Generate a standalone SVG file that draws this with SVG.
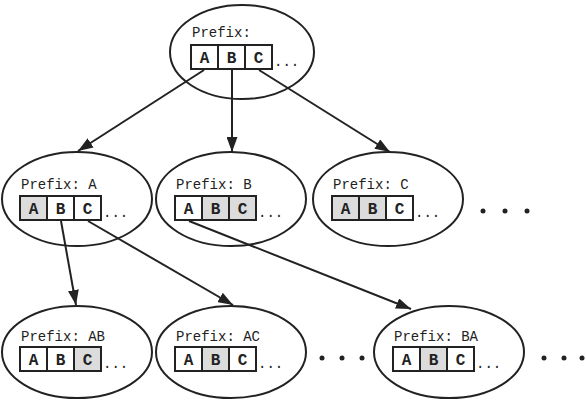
<svg xmlns="http://www.w3.org/2000/svg" width="586" height="401" viewBox="0 0 586 401">
<defs>
<style>
.ell{fill:#fff;stroke:#222;stroke-width:2}
.cell{fill:#fff;stroke:#222;stroke-width:2}
.cell.g{fill:#dcdcdc}
.lbl{font-family:"Liberation Mono","DejaVu Sans Mono",monospace;font-size:14px;fill:#222}
.ch{font-family:"Liberation Mono","DejaVu Sans Mono",monospace;font-size:16px;font-weight:bold;fill:#222;text-anchor:middle}
.dots{font-family:"Liberation Mono","DejaVu Sans Mono",monospace;font-size:14px;fill:#222}
.con{stroke:#222;stroke-width:2;fill:none;marker-end:url(#ah)}
.big{fill:#222}
</style>
<marker id="ah" markerUnits="userSpaceOnUse" markerWidth="15" markerHeight="11" refX="15" refY="5.5" orient="auto">
<path d="M0,0 L15,5.5 L0,11 z" fill="#222"/>
</marker>
</defs>
<rect width="586" height="401" fill="#fff"/>

<g id="root">
<ellipse class="ell" cx="242" cy="52" rx="72" ry="47"/>
<text class="lbl" x="192" y="37">Prefix:</text>
<rect class="cell" x="191" y="45" width="27" height="24"/>
<rect class="cell" x="218" y="45" width="27" height="24"/>
<rect class="cell" x="245" y="45" width="27" height="24"/>
<text class="ch" x="204.5" y="63">A</text><text class="ch" x="231.5" y="63">B</text><text class="ch" x="258.5" y="63">C</text>
<text class="dots" x="274" y="66">...</text>
</g>

<g id="nodeA">
<ellipse class="ell" cx="77" cy="199" rx="75" ry="47"/>
<text class="lbl" x="21" y="189">Prefix: A</text>
<rect class="cell g" x="20" y="196" width="27" height="24"/>
<rect class="cell" x="47" y="196" width="27" height="24"/>
<rect class="cell" x="74" y="196" width="27" height="24"/>
<text class="ch" x="33.5" y="214">A</text><text class="ch" x="60.5" y="214">B</text><text class="ch" x="87.5" y="214">C</text>
<text class="dots" x="103" y="217">...</text>
</g>

<g id="nodeB">
<ellipse class="ell" cx="231" cy="199" rx="75" ry="47"/>
<text class="lbl" x="176" y="189">Prefix: B</text>
<rect class="cell" x="175" y="196" width="27" height="24"/>
<rect class="cell g" x="202" y="196" width="27" height="24"/>
<rect class="cell g" x="229" y="196" width="27" height="24"/>
<text class="ch" x="188.5" y="214">A</text><text class="ch" x="215.5" y="214">B</text><text class="ch" x="242.5" y="214">C</text>
<text class="dots" x="258" y="217">...</text>
</g>

<g id="nodeC">
<ellipse class="ell" cx="388" cy="199" rx="75" ry="47"/>
<text class="lbl" x="333" y="189">Prefix: C</text>
<rect class="cell g" x="332" y="196" width="27" height="24"/>
<rect class="cell g" x="359" y="196" width="27" height="24"/>
<rect class="cell" x="386" y="196" width="27" height="24"/>
<text class="ch" x="345.5" y="214">A</text><text class="ch" x="372.5" y="214">B</text><text class="ch" x="399.5" y="214">C</text>
<text class="dots" x="415" y="217">...</text>
</g>

<g id="moreMid">
<circle class="big" cx="483" cy="211" r="2.5"/><circle class="big" cx="505" cy="211" r="2.5"/><circle class="big" cx="527" cy="211" r="2.5"/>
</g>

<g id="nodeAB">
<ellipse class="ell" cx="77" cy="352" rx="75" ry="46"/>
<text class="lbl" x="21" y="341">Prefix: AB</text>
<rect class="cell" x="20" y="347" width="27" height="24"/>
<rect class="cell" x="47" y="347" width="27" height="24"/>
<rect class="cell g" x="74" y="347" width="27" height="24"/>
<text class="ch" x="33.5" y="365">A</text><text class="ch" x="60.5" y="365">B</text><text class="ch" x="87.5" y="365">C</text>
<text class="dots" x="103" y="368">...</text>
</g>

<g id="nodeAC">
<ellipse class="ell" cx="231" cy="352" rx="75" ry="46"/>
<text class="lbl" x="176" y="341">Prefix: AC</text>
<rect class="cell" x="175" y="347" width="27" height="24"/>
<rect class="cell g" x="202" y="347" width="27" height="24"/>
<rect class="cell" x="229" y="347" width="27" height="24"/>
<text class="ch" x="188.5" y="365">A</text><text class="ch" x="215.5" y="365">B</text><text class="ch" x="242.5" y="365">C</text>
<text class="dots" x="258" y="368">...</text>
</g>

<g id="nodeBA">
<ellipse class="ell" cx="449" cy="352" rx="75" ry="46"/>
<text class="lbl" x="394" y="341">Prefix: BA</text>
<rect class="cell" x="393" y="347" width="27" height="24"/>
<rect class="cell g" x="420" y="347" width="27" height="24"/>
<rect class="cell" x="447" y="347" width="27" height="24"/>
<text class="ch" x="406.5" y="365">A</text><text class="ch" x="433.5" y="365">B</text><text class="ch" x="460.5" y="365">C</text>
<text class="dots" x="476" y="368">...</text>
</g>

<g id="moreBottom">
<circle class="big" cx="322" cy="358" r="2.5"/><circle class="big" cx="342" cy="358" r="2.5"/><circle class="big" cx="362" cy="358" r="2.5"/>
<circle class="big" cx="544" cy="358" r="2.5"/><circle class="big" cx="564" cy="358" r="2.5"/><circle class="big" cx="582" cy="358" r="2.5"/>
</g>

<g id="connectors">
<line class="con" x1="204" y1="70" x2="78" y2="151"/>
<line class="con" x1="232" y1="70" x2="232" y2="152"/>
<line class="con" x1="259" y1="70" x2="390" y2="152"/>
<line class="con" x1="61" y1="221" x2="76" y2="305"/>
<line class="con" x1="88" y1="221" x2="233" y2="305"/>
<line class="con" x1="189" y1="221" x2="411" y2="309"/>
</g>
</svg>
